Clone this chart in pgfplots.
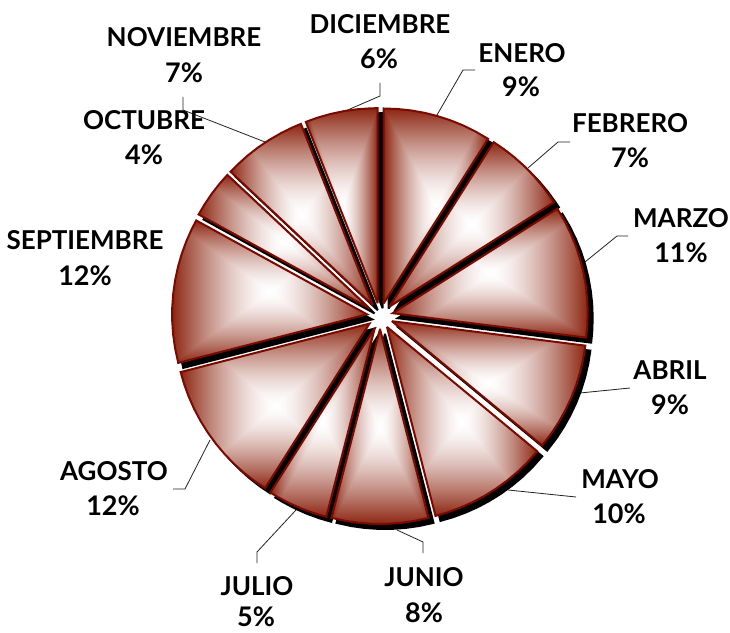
\documentclass[border=0pt]{standalone}
\usepackage{fontspec}
\setmainfont{Lato}[BoldFont={Lato Bold}]
\usepackage{pgfplots}
\usepackage{pgfplotstable}
\pgfplotsset{compat=1.18}

% rectangular gradient over the slice bounding box: white centre, brown edge
\pgfdeclarefunctionalshading{rectgrad}{\pgfpointorigin}{\pgfpoint{100bp}{100bp}}{}{
  50 sub abs exch 50 sub abs 2 copy lt {exch} if pop 25 div
  dup 1 gt {pop 1} if 1.5 exp
  dup 0.45 mul neg 1 add exch dup 0.85 mul neg 1 add exch 0.93 mul neg 1 add
}
\definecolor{slice}{HTML}{7A0A00}
\definecolor{leader}{HTML}{222222}

% slices: angle (deg) and radius
\pgfplotstableread[row sep=\\]{a r\\ 90 0\\ 90 195\\ 86 195\\ 82 195\\ 78 195\\ 74 195\\ 70 195\\ 66 195\\ 62 195\\ 57.6 195\\ 57.6 0\\}\tEne
\pgfplotstableread[row sep=\\]{a r\\ 57.6 0\\ 57.6 195\\ 54 195\\ 50 195\\ 46 195\\ 42 195\\ 38 195\\ 34 195\\ 32.4 195\\ 32.4 0\\}\tFeb
\pgfplotstableread[row sep=\\]{a r\\ 32.4 0\\ 32.4 195\\ 28 195\\ 24 195\\ 20 195\\ 16 195\\ 12 195\\ 8 195\\ 4 195\\ 0 195\\ -4 195\\ -7.2 195\\ -7.2 0\\}\tMar
\pgfplotstableread[row sep=\\]{a r\\ -7.2 0\\ -7.2 195\\ -11 195\\ -15 195\\ -19 195\\ -23 195\\ -27 195\\ -31 195\\ -35 195\\ -39.6 195\\ -39.6 0\\}\tAbr
\pgfplotstableread[row sep=\\]{a r\\ -39.6 0\\ -39.6 195\\ -44 195\\ -48 195\\ -52 195\\ -56 195\\ -60 195\\ -64 195\\ -68 195\\ -72 195\\ -75.6 195\\ -75.6 0\\}\tMay
\pgfplotstableread[row sep=\\]{a r\\ -75.6 0\\ -75.6 195\\ -80 195\\ -84 195\\ -88 195\\ -92 195\\ -96 195\\ -100 195\\ -104.4 195\\ -104.4 0\\}\tJun
\pgfplotstableread[row sep=\\]{a r\\ -104.4 0\\ -104.4 195\\ -108 195\\ -112 195\\ -116 195\\ -120 195\\ -122.4 195\\ -122.4 0\\}\tJul
\pgfplotstableread[row sep=\\]{a r\\ -122.4 0\\ -122.4 195\\ -126 195\\ -130 195\\ -134 195\\ -138 195\\ -142 195\\ -146 195\\ -150 195\\ -154 195\\ -158 195\\ -162 195\\ -165.6 195\\ -165.6 0\\}\tAgo
\pgfplotstableread[row sep=\\]{a r\\ -165.6 0\\ -165.6 195\\ -170 195\\ -174 195\\ -178 195\\ -182 195\\ -186 195\\ -190 195\\ -194 195\\ -198 195\\ -202 195\\ -206 195\\ -208.8 195\\ -208.8 0\\}\tSep
\pgfplotstableread[row sep=\\]{a r\\ -208.8 0\\ -208.8 195\\ -212 195\\ -216 195\\ -220 195\\ -223.2 195\\ -223.2 0\\}\tOct
\pgfplotstableread[row sep=\\]{a r\\ -223.2 0\\ -223.2 195\\ -226 195\\ -230 195\\ -234 195\\ -238 195\\ -242 195\\ -246 195\\ -248.4 195\\ -248.4 0\\}\tNov
\pgfplotstableread[row sep=\\]{a r\\ -248.4 0\\ -248.4 195\\ -252 195\\ -256 195\\ -260 195\\ -264 195\\ -268 195\\ -270 195\\ -270 0\\}\tDic

% #1 table, #2 #3 explode offset along the bisector
\newcommand{\sliceshadow}[3]{\addplot[draw=black,fill=black,line width=2pt,line join=miter,miter limit=3,
  shift={(axis direction cs:#2+5,#3-5)},data cs=polar] table[x=a,y=r] {#1} --cycle;}
\newcommand{\slicetop}[3]{\addplot[draw=slice,line width=2pt,line join=miter,miter limit=3,shade,shading=rectgrad,
  shift={(axis direction cs:#2,#3)},data cs=polar] table[x=a,y=r] {#1} --cycle;}
% label: #1 #2 centre of the name, #3 name, #4 #5 centre of the value, #6 value
\newcommand{\lab}[6]{\node[font=\fontsize{26}{26}\selectfont\bfseries,inner sep=0pt,text=black] at (axis cs:#1,#2) {#3};
  \node[font=\fontsize{27}{27}\selectfont\bfseries,inner sep=0pt,text=black] at (axis cs:#4,#5) {#6};}

\begin{document}
\begin{tikzpicture}
\begin{axis}[
    hide axis,
    scale only axis,
    width=730pt,height=632pt,
    xmin=-380,xmax=350,
    ymin=-316,ymax=316,
    clip=false,
    every axis plot/.append style={mark=none},
]
\path (axis cs:-380,-316) rectangle (axis cs:350,316);
% leaders, pixel position minus pie centre
\addplot[leader,line width=0.8pt] coordinates {(57,201) (83,246) (95,246)};
\addplot[leader,line width=0.8pt] coordinates {(148,148) (178,174) (190,174)};
\addplot[leader,line width=0.8pt] coordinates {(205,54) (237,80) (248,80)};
\addplot[leader,line width=0.8pt] coordinates {(200,-77) (250,-72)};
\addplot[leader,line width=0.8pt] coordinates {(128,-174) (196,-181)};
\addplot[leader,line width=0.8pt] coordinates {(17,-214) (43,-226) (43,-237)};
\addplot[leader,line width=0.8pt] coordinates {(-84,-194) (-123,-236) (-123,-247)};
\addplot[leader,line width=0.8pt] coordinates {(-170,-124) (-195,-173) (-207,-173)};
\addplot[leader,line width=0.8pt] coordinates {(-115,174) (-197,206) (-197,219)};
\addplot[leader,line width=0.8pt] coordinates {(-37,204) (0,220) (0,233)};
% shadows
\sliceshadow{\tEne}{3.6}{12.5}
\sliceshadow{\tFeb}{9.2}{9.2}
\sliceshadow{\tMar}{12.7}{2.8}
\sliceshadow{\tAbr}{11.9}{-5.2}
\sliceshadow{\tMay}{7.0}{-11.0}
\sliceshadow{\tJun}{0}{-13}
\sliceshadow{\tJul}{-5.2}{-11.9}
\sliceshadow{\tAgo}{-10.5}{-7.6}
\sliceshadow{\tSep}{-12.9}{1.6}
\sliceshadow{\tOct}{-10.5}{7.6}
\sliceshadow{\tNov}{-7.3}{10.8}
\sliceshadow{\tDic}{-2.4}{12.8}
% slices
\slicetop{\tEne}{3.6}{12.5}
\slicetop{\tFeb}{9.2}{9.2}
\slicetop{\tMar}{12.7}{2.8}
\slicetop{\tAbr}{11.9}{-5.2}
\slicetop{\tMay}{7.0}{-11.0}
\slicetop{\tJun}{0}{-13}
\slicetop{\tJul}{-5.2}{-11.9}
\slicetop{\tAgo}{-10.5}{-7.6}
\slicetop{\tSep}{-12.9}{1.6}
\slicetop{\tOct}{-10.5}{7.6}
\slicetop{\tNov}{-7.3}{10.8}
\slicetop{\tDic}{-2.4}{12.8}
% labels
\lab{142}{263}{ENERO}{141}{229}{9\%}
\lab{250}{193}{FEBRERO}{250}{158}{7\%}
\lab{301}{98}{MARZO}{301}{63}{11\%}
\lab{290}{-54}{ABRIL}{290}{-89}{9\%}
\lab{240}{-163}{MAYO}{239}{-198}{10\%}
\lab{44}{-261}{JUNIO}{44}{-297}{8\%}
\lab{-123}{-270}{JULIO}{-124}{-301}{5\%}
\lab{-266}{-155}{AGOSTO}{-267}{-190}{12\%}
\lab{-295}{76}{SEPTIEMBRE}{-295}{40}{12\%}
\lab{-236}{196}{OCTUBRE}{-236}{161}{4\%}
\lab{-196}{279}{NOVIEMBRE}{-196}{243}{7\%}
\lab{0}{292}{DICIEMBRE}{-1}{257}{6\%}
\end{axis}
\end{tikzpicture}
\end{document}
